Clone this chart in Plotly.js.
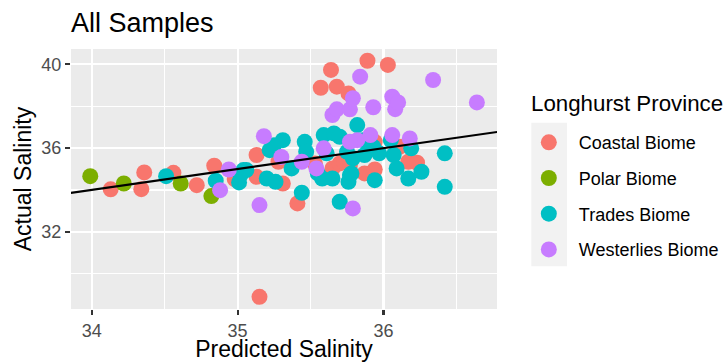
<!DOCTYPE html>
<html>
<head>
<meta charset="utf-8">
<script src="https://cdn.plot.ly/plotly-3.0.1.min.js"></script>
<style>html,body{margin:0;padding:0;background:#fff;}#chart{width:728px;height:362px;}</style>
</head>
<body>
<div id="chart"></div>
<script>
// Data
const groupNames = ["Coastal Biome", "Polar Biome", "Trades Biome", "Westerlies Biome"];
const groupColors = ["#F8766D", "#7CAE00", "#00BFC4", "#C77CFF"];
const legendTitle = "Longhurst Province";

const coastalX = [34.13, 34.36, 34.34, 34.56, 34.72, 34.84, 34.98, 35.13, 35.28, 35.13, 35.31, 35.41, 35.53, 35.65, 35.70, 35.73, 35.77, 35.87, 35.94, 35.94, 36.11, 36.17, 36.23, 35.64, 35.89, 36.03, 35.57, 35.68, 35.76, 35.15];
const coastalY = [34.03, 34.84, 34.04, 34.82, 34.23, 35.16, 34.52, 35.67, 35.35, 34.63, 34.31, 33.36, 35.27, 35.03, 35.27, 35.35, 35.19, 34.79, 34.98, 36.30, 36.06, 35.35, 35.30, 39.73, 40.17, 39.97, 38.88, 38.93, 38.61, 28.90];

const polarX = [33.99, 34.22, 34.61, 34.82];
const polarY = [34.66, 34.31, 34.31, 33.71];

const tradesX = [34.51, 34.85, 35.01, 35.04, 35.06, 35.02, 35.20, 35.26, 35.22, 35.31, 35.37, 35.46, 35.47, 35.44, 35.59, 35.66, 35.82, 35.61, 35.58, 35.65, 35.75, 35.77, 35.76, 35.70, 35.86, 35.93, 35.97, 35.87, 35.79, 35.78, 35.94, 36.05, 36.19, 36.07, 36.09, 36.17, 36.26, 36.42, 36.42, 35.25, 35.55, 35.70];
const tradesY = [34.66, 34.44, 34.36, 34.95, 34.95, 34.71, 34.55, 34.39, 35.90, 36.38, 35.03, 36.30, 35.82, 33.87, 36.62, 36.70, 37.10, 35.75, 34.55, 34.55, 35.82, 34.71, 34.39, 33.44, 36.38, 36.06, 35.75, 35.67, 35.51, 34.79, 34.47, 36.38, 35.99, 35.67, 35.03, 34.55, 34.87, 35.75, 34.15, 36.14, 34.79, 36.54];

const westX = [34.94, 34.88, 35.18, 35.30, 35.44, 35.15, 35.65, 35.59, 35.54, 35.82, 35.79, 35.68, 35.77, 35.93, 36.08, 35.77, 35.91, 36.06, 36.18, 35.84, 35.79, 36.34, 36.64, 36.06, 36.10];
const westY = [34.98, 33.99, 36.57, 35.58, 35.35, 33.28, 37.58, 35.99, 35.03, 36.38, 33.12, 37.85, 37.85, 37.95, 37.86, 36.30, 36.62, 36.62, 36.46, 39.41, 38.38, 39.25, 38.18, 38.45, 38.18];

// fitted line endpoints
const fitX = [33.8, 36.9];
const fitY = [33.81, 36.89];

const xTicks = [34, 35, 36];
const yTicks = [32, 36, 40];

const groupX = [coastalX, polarX, tradesX, westX];
const groupY = [coastalY, polarY, tradesY, westY];

const traces = groupNames.map((name, i) => ({
  type: "scatter", mode: "markers", name: "\u00a0\u00a0" + name,
  x: groupX[i], y: groupY[i],
  legendgroup: "g" + i,
  marker: {color: groupColors[i], size: 16, line: {width: 0}},
  hoverinfo: "x+y"
}));
traces.push({
  type: "scatter", mode: "lines", x: fitX, y: fitY, showlegend: false,
  line: {color: "#000000", width: 2.2}, hoverinfo: "skip"
});

const L = 71, R = 231.3, T = 49, B = 53.3;
const W = 728 - L - R, H = 362 - T - B;
const px = v => (v - L) / W;
const py = v => (362 - B - v) / H;

const layout = {
  width: 728, height: 362,
  margin: {l: L, r: R, t: T, b: B, pad: 0, autoexpand: false},
  paper_bgcolor: "#FFFFFF", plot_bgcolor: "#EBEBEB",
  font: {family: "Liberation Sans, Arial, sans-serif", color: "#000000"},
  title: {text: "All Samples", font: {size: 27, color: "#000000"}, x: 0, xref: "paper", xanchor: "left", y: 1 - 23/362, yref: "container", yanchor: "middle"},
  showlegend: true,
  legend: {
    x: px(528.5), xanchor: "left", y: py(124), yanchor: "top",
    bgcolor: "rgba(0,0,0,0)", borderwidth: 0,
    tracegroupgap: 9.3, itemsizing: "trace",
    font: {size: 18, color: "#000000"}
  },
  annotations: [{
    text: legendTitle, xref: "paper", yref: "paper", x: px(528.7), y: py(103.3),
    xanchor: "left", yanchor: "middle", showarrow: false,
    font: {size: 22.3, color: "#000000"}
  }],
  xaxis: {
    range: [33.858, 36.778], tickvals: xTicks, ticktext: xTicks.map(String),
    showgrid: true, gridcolor: "#FFFFFF", gridwidth: 2.2,
    minor: {dtick: 0.5, tick0: 34, showgrid: true, gridcolor: "#FFFFFF", gridwidth: 1.1, ticks: ""},
    ticks: "outside", ticklen: 5, tickwidth: 2.2, tickcolor: "#333333",
    tickfont: {size: 18, color: "#4D4D4D"},
    zeroline: false, showline: false,
    title: {text: "Predicted Salinity", font: {size: 23, color: "#000000"}, standoff: 7}
  },
  yaxis: {
    range: [28.32, 40.73], tickvals: yTicks, ticktext: yTicks.map(String),
    showgrid: true, gridcolor: "#FFFFFF", gridwidth: 2.2,
    minor: {dtick: 2, tick0: 32, showgrid: true, gridcolor: "#FFFFFF", gridwidth: 1.1, ticks: ""},
    ticks: "outside", ticklen: 5, tickwidth: 2.2, tickcolor: "#333333",
    tickfont: {size: 18, color: "#4D4D4D"},
    zeroline: false, showline: false,
    title: {text: "Actual Salinity", font: {size: 23, color: "#000000"}, standoff: 3}
  },
  shapes: [{
    type: "rect", xref: "paper", yref: "paper", layer: "above",
    x0: px(531), x1: px(566.7), y0: py(266), y1: py(122.7),
    fillcolor: "#F2F2F2", line: {width: 0}
  }]
};

Plotly.newPlot("chart", traces, layout, {displayModeBar: false, staticPlot: true});
</script>
</body>
</html>
